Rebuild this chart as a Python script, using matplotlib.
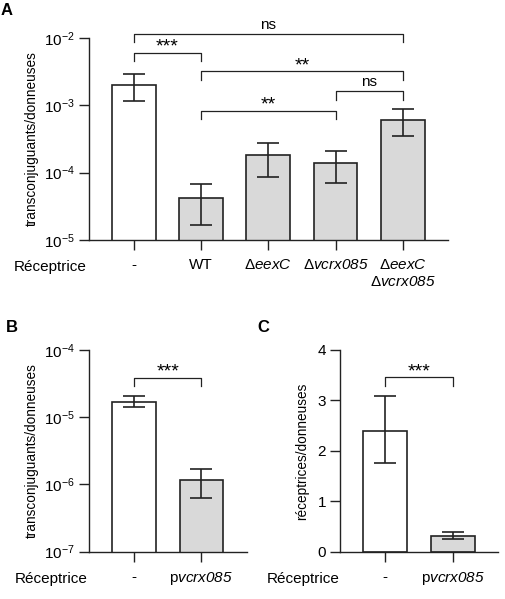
import matplotlib
matplotlib.use("Agg")
import matplotlib.pyplot as plt
import matplotlib.transforms as mtransforms
import numpy as np

plt.rcParams["font.family"] = ["Liberation Sans", "DejaVu Sans"]
plt.rcParams["mathtext.fontset"] = "custom"
plt.rcParams["mathtext.rm"] = "Liberation Sans"
plt.rcParams["mathtext.it"] = "Liberation Sans:italic"
plt.rcParams["mathtext.sf"] = "Liberation Sans:italic"
plt.rcParams["mathtext.default"] = "regular"

# Panel A
a_labels = ["-", "WT", r"$\Delta\mathsf{eexC}$", r"$\Delta\mathsf{vcrx085}$",
            "$\\Delta\\mathsf{eexC}$\n$\\Delta\\mathsf{vcrx085}$"]
a_values = [2.0e-3, 4.2e-5, 1.82e-4, 1.38e-4, 6.0e-4]
a_err_hi = [2.9e-3, 6.8e-5, 2.77e-4, 2.1e-4, 8.7e-4]
a_err_lo = [1.15e-3, 1.66e-5, 8.6e-5, 7.1e-5, 3.5e-4]
a_colors = ["white", "#d9d9d9", "#d9d9d9", "#d9d9d9", "#d9d9d9"]
# (left bar, right bar, level as log10 value, label)
a_brackets = [(0, 4, -1.94, "ns"), (0, 1, -2.22, "***"), (1, 4, -2.50, "**"),
              (3, 4, -2.79, "ns"), (1, 3, -3.08, "**")]

# Panel B
b_labels = ["-", r"p$\mathsf{vcrx085}$"]
b_values = [1.7e-5, 1.15e-6]
b_err_hi = [2.1e-5, 1.68e-6]
b_err_lo = [1.41e-5, 6.3e-7]

# Panel C
c_labels = ["-", r"p$\mathsf{vcrx085}$"]
c_values = [2.40, 0.305]
c_err_hi = [3.08, 0.40]
c_err_lo = [1.75, 0.245]

EDGE = "#222222"
LW = 1.0


def bar_panel(ax, labels, values, hi, lo, colors, log=True):
    x = np.arange(len(values))
    v = np.array(values)
    yerr = [v - np.array(lo), np.array(hi) - v]
    ax.bar(x, v, width=0.65, color=colors, edgecolor=EDGE, linewidth=1.2, zorder=2)
    ax.errorbar(x, v, yerr=yerr, fmt="none", ecolor=EDGE, elinewidth=1.2,
                capsize=8, capthick=1.2, zorder=3)
    if log:
        ax.set_yscale("log")
        ax.yaxis.set_minor_locator(matplotlib.ticker.NullLocator())
    ax.set_xticks(x)
    ax.set_xticklabels(labels, fontsize=11, va="top", linespacing=1.3)
    ax.set_xlim(-0.67, len(values) - 1 + 0.67)
    for s in ("top", "right"):
        ax.spines[s].set_visible(False)
    for s in ("left", "bottom"):
        ax.spines[s].set_linewidth(LW)
        ax.spines[s].set_color(EDGE)
    ax.tick_params(axis="both", length=7, width=LW, color=EDGE, labelsize=11, pad=3)
    ax.tick_params(axis="x", length=7, pad=6)
    trans = mtransforms.blended_transform_factory(ax.transAxes, ax.transAxes)
    ax.text(-0.005, -0.135, "Réceptrice", transform=trans, ha="right", va="center",
            fontsize=11)


def bracket(ax, x0, x1, y, label, drop, log=True):
    stars = label.startswith("*")
    if log:
        top = 10 ** y
        bot = 10 ** (y - drop)
        ty = 10 ** (y + (-0.045 if stars else 0.03))
    else:
        top = y
        bot = y - drop
        ty = y + (-0.06 if stars else 0.05)
    ax.plot([x0, x0, x1, x1], [bot, top, top, bot], color=EDGE, lw=0.9, clip_on=False)
    ax.text((x0 + x1) / 2, ty, label, ha="center", va="bottom",
            fontsize=14 if stars else 11, clip_on=False)


fig = plt.figure(figsize=(5.06, 5.99), dpi=100)

axA = fig.add_axes([0.1753, 0.5993, 0.710, 0.3377])
bar_panel(axA, a_labels, a_values, a_err_hi, a_err_lo, a_colors)
axA.set_ylim(1e-5, 1e-2)
axA.set_yticks([1e-5, 1e-4, 1e-3, 1e-2])
axA.set_yticklabels(["$10^{-5}$", "$10^{-4}$", "$10^{-3}$", "$10^{-2}$"])
axA.set_ylabel("transconjuguants/donneuses", fontsize=9.8, labelpad=4)
for x0, x1, y, lab in a_brackets:
    bracket(axA, x0, x1, y, lab, 0.13)

axB = fig.add_axes([0.1753, 0.0790, 0.3122, 0.3367])
bar_panel(axB, b_labels, b_values, b_err_hi, b_err_lo, ["white", "#d9d9d9"])
axB.set_ylim(1e-7, 1e-4)
axB.set_yticks([1e-7, 1e-6, 1e-5, 1e-4])
axB.set_yticklabels(["$10^{-7}$", "$10^{-6}$", "$10^{-5}$", "$10^{-4}$"])
axB.set_ylabel("transconjuguants/donneuses", fontsize=9.8, labelpad=4)
bracket(axB, 0, 1, -4.41, "***", 0.12)

axC = fig.add_axes([0.672, 0.0790, 0.3128, 0.3367])
bar_panel(axC, c_labels, c_values, c_err_hi, c_err_lo, ["white", "#d9d9d9"], log=False)
axC.set_ylim(0, 4)
axC.set_yticks([0, 1, 2, 3, 4])
axC.set_ylabel("réceptrices/donneuses", fontsize=9.8, labelpad=6)
bracket(axC, 0, 1, 3.46, "***", 0.18, log=False)

fig.text(0.002, 0.995, "A", fontsize=12, fontweight="bold", ha="left", va="top")
fig.text(0.012, 0.465, "B", fontsize=12, fontweight="bold", ha="left", va="top")
fig.text(0.508, 0.465, "C", fontsize=12, fontweight="bold", ha="left", va="top")

fig.savefig("out.png", dpi=100)
